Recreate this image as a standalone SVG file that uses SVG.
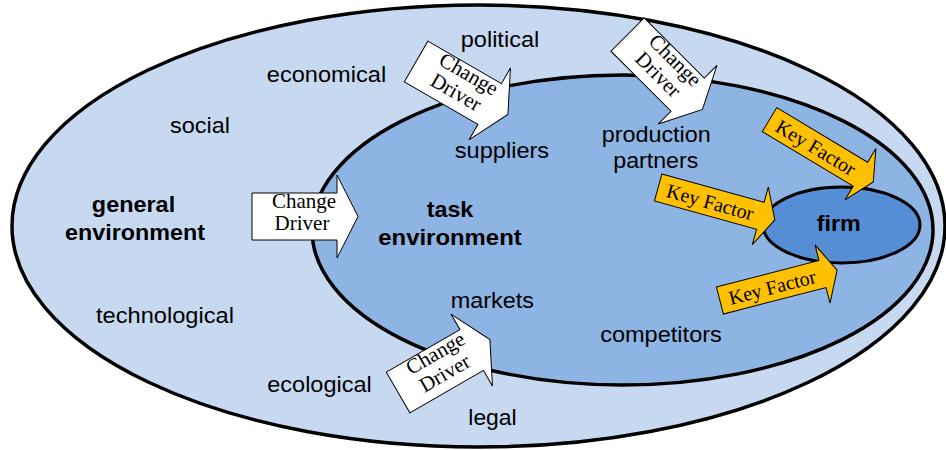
<svg xmlns="http://www.w3.org/2000/svg" width="946" height="450" viewBox="0 0 946 450">
<style>
.lbl{font-family:"Liberation Sans",Arial,sans-serif;font-size:21.5px;fill:#000;text-anchor:middle}
.bold{font-weight:bold}
.ser{font-family:"Liberation Serif","Times New Roman",serif;font-size:21px;fill:#000;text-anchor:middle}
.kft{font-family:"Liberation Serif","Times New Roman",serif;font-size:20px;fill:#000;text-anchor:middle}
.cd{fill:#FFFFFF;stroke:#000;stroke-width:1}
.kf{fill:#FFC000;stroke:#000;stroke-width:1}
.ell{stroke:#000;stroke-width:3.5}
</style>
<defs>
<path id="cdShape" d="M-53,-23.5 H32 V-41.5 L53,0 L32,41.5 V23.5 H-53 Z"/>
<path id="kfShape" d="M-60,-14 H46 V-30 L61,0 L46,30 V14 H-60 Z"/>
</defs>
<rect width="946" height="450" fill="#FFFFFF"/>
<g id="general-environment">
<ellipse class="ell" cx="478.5" cy="226" rx="466.5" ry="221" fill="#C6D9F1"/>
<text class="lbl bold" x="133.5" y="211.5" textLength="83.3" lengthAdjust="spacingAndGlyphs">general</text>
<text class="lbl bold" x="135" y="239.5" textLength="140" lengthAdjust="spacingAndGlyphs">environment</text>
<text class="lbl" x="500" y="47" textLength="78.6" lengthAdjust="spacingAndGlyphs">political</text>
<text class="lbl" x="326.5" y="81.5" textLength="119.3" lengthAdjust="spacingAndGlyphs">economical</text>
<text class="lbl" x="200" y="133" textLength="60" lengthAdjust="spacingAndGlyphs">social</text>
<text class="lbl" x="165" y="322.5" textLength="138" lengthAdjust="spacingAndGlyphs">technological</text>
<text class="lbl" x="319.5" y="391.5" textLength="104.4" lengthAdjust="spacingAndGlyphs">ecological</text>
<text class="lbl" x="492.5" y="425" textLength="48.4" lengthAdjust="spacingAndGlyphs">legal</text>
</g>
<g id="task-environment">
<ellipse class="ell" cx="622.5" cy="230" rx="310.5" ry="155" fill="#8EB4E3"/>
<text class="lbl bold" x="450" y="216.7" textLength="46.6" lengthAdjust="spacingAndGlyphs">task</text>
<text class="lbl bold" x="450" y="245" textLength="143.4" lengthAdjust="spacingAndGlyphs">environment</text>
<text class="lbl" x="502" y="158.3" textLength="94.3" lengthAdjust="spacingAndGlyphs">suppliers</text>
<text class="lbl" x="656.2" y="141.7" textLength="109" lengthAdjust="spacingAndGlyphs">production</text>
<text class="lbl" x="655.8" y="168.3" textLength="85" lengthAdjust="spacingAndGlyphs">partners</text>
<text class="lbl" x="492.3" y="307.7" textLength="83.3" lengthAdjust="spacingAndGlyphs">markets</text>
<text class="lbl" x="661" y="341.7" textLength="121.7" lengthAdjust="spacingAndGlyphs">competitors</text>
</g>
<g id="firm">
<ellipse cx="841.5" cy="225" rx="78.5" ry="38" fill="#558ED5" stroke="#000" stroke-width="3"/>
<text class="lbl bold" x="838.7" y="230.7" textLength="44" lengthAdjust="spacingAndGlyphs">firm</text>
</g>
<g id="connectors">
<g id="change-driver-1" transform="translate(305,216.5)">
<use href="#cdShape" class="cd"/>
<text class="ser" x="-1" y="-8.5">Change</text>
<text class="ser" x="-3" y="13.5">Driver</text>
</g>
<g id="change-driver-2" transform="translate(462,88) rotate(30)">
<use href="#cdShape" class="cd"/>
<text class="ser" x="-1" y="-8.5">Change</text>
<text class="ser" x="-3" y="13.5">Driver</text>
</g>
<g id="change-driver-3" transform="translate(665,72) rotate(45)">
<use href="#cdShape" class="cd"/>
<text class="ser" x="-1" y="-8.5">Change</text>
<text class="ser" x="-3" y="13.5">Driver</text>
</g>
<g id="change-driver-4" transform="translate(444,366) rotate(-30)">
<use href="#cdShape" class="cd"/>
<text class="ser" x="-1" y="-8.5">Change</text>
<text class="ser" x="-3" y="13.5">Driver</text>
</g>
<g id="key-factor-1" transform="translate(821,150.5) rotate(31)">
<use href="#kfShape" class="kf"/>
<text class="kft" x="-6" y="7">Key Factor</text>
</g>
<g id="key-factor-2" transform="translate(716,203.5) rotate(15.5)">
<use href="#kfShape" class="kf"/>
<text class="kft" x="-6" y="7">Key Factor</text>
</g>
<g id="key-factor-3" transform="translate(778,285.5) rotate(-14.5)">
<use href="#kfShape" class="kf"/>
<text class="kft" x="-6" y="7">Key Factor</text>
</g>
</g>
</svg>
